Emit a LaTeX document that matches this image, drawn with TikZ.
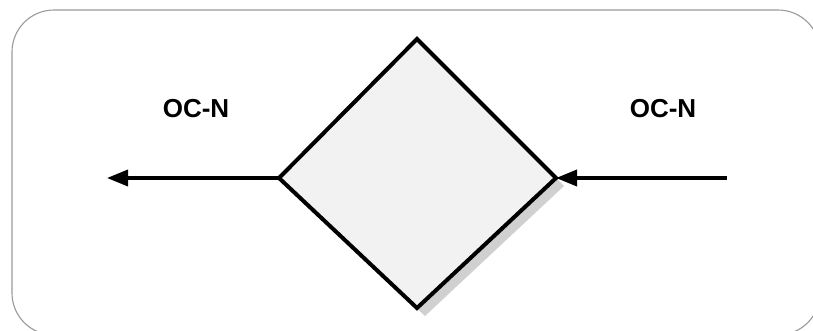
\documentclass[tikz,border=0pt]{standalone}
\usepackage{fontspec}
\setmainfont{Liberation Sans}
\usetikzlibrary{arrows.meta}
\definecolor{framegray}{HTML}{9A9A9A}
\definecolor{diafill}{HTML}{F2F2F2}
\definecolor{shadowgray}{HTML}{D0D0D0}
\tikzset{
  frame/.style={draw=framegray, line width=1.1pt, rounded corners=42pt},
  gate/.style={draw=black, fill=diafill, line width=4pt, line join=miter},
  gateshadow/.style={fill=shadowgray},
  flow/.style={line width=3.6pt, -{Triangle[length=21pt,width=16pt]}},
  lbl/.style={font=\bfseries\fontsize{26}{30}\selectfont, inner sep=0pt}
}
\begin{document}
\begin{tikzpicture}[x=1pt,y=-1pt]
\useasboundingbox (0,0) rectangle (813,331);
\draw[frame] (12,10) rectangle (820,335);
\coordinate (dt) at (417,39);
\coordinate (dr) at (556,178);
\coordinate (db) at (417,308);
\coordinate (dl) at (279,178);
\fill[gateshadow] ([shift={(8,8)}]dt) -- ([shift={(8,8)}]dr) -- ([shift={(8,8)}]db) -- ([shift={(8,8)}]dl) -- cycle;
\draw[gate] (dt) -- (dr) -- (db) -- (dl) -- cycle;
\coordinate (outl) at (107,178);
\coordinate (inr) at (727,178);
\draw[flow] (dl) -- (outl);
\draw[flow] (inr) -- (dr);
\node[lbl] (l1) at (196,109) {OC-N};
\node[lbl] (l2) at (663,109) {OC-N};
\end{tikzpicture}
\end{document}
